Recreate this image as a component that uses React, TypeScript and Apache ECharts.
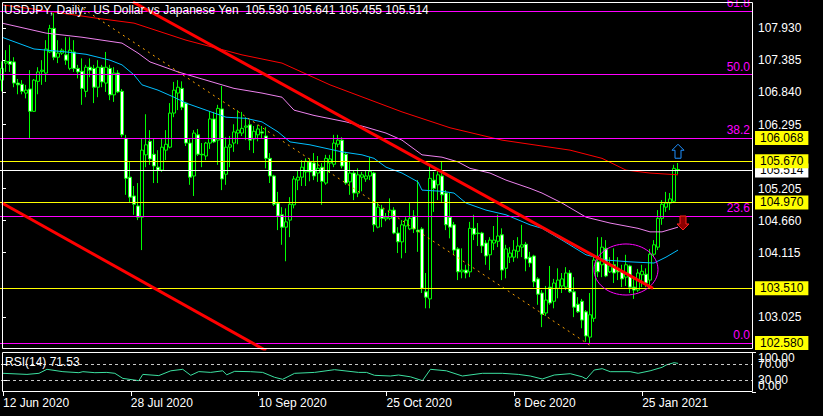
import React, { useEffect, useRef } from "react";
import * as echarts from "echarts";

const TITLE = "USDJPY, Daily:  US Dollar vs Japanese Yen  105.530 105.641 105.455 105.514";
const RSI_TITLE = "RSI(14) 71.53";
const FONT = "Liberation Sans, Arial, sans-serif";

const dateTickIdx = [0, 32, 64, 96, 128, 160];
const dateTickLabels = ["12 Jun 2020", "28 Jul 2020", "10 Sep 2020", "25 Oct 2020", "8 Dec 2020", "25 Jan 2021"];
const priceTicks = [103.025, 104.115, 104.66, 105.205, 106.295, 106.84, 107.385, 107.93];
const rsiMidTicks = [30, 70];
const rsiTopTick = [100];
const rsiBottomTick = [0];

// [open, close, low, high]
const ohlc = [
  [107.05,107.25,106.86,107.37],[107.34,107.37,107.19,107.56],[107.37,107.32,107.19,107.65],[107.36,107.00,106.93,107.44],[107.00,106.97,106.81,107.07],
  [106.98,106.86,106.81,107.05],[106.83,106.88,106.74,106.97],[106.90,106.52,106.06,107.22],[106.52,107.05,106.51,107.07],[107.03,107.19,106.81,107.27],
  [107.20,107.22,106.97,107.39],[107.17,107.58,107.02,107.73],[107.53,107.93,107.51,107.99],[107.93,107.44,107.39,108.19],[107.44,107.51,107.34,107.73],
  [107.51,107.56,107.48,107.59],[107.48,107.39,107.31,107.78],[107.25,107.56,107.22,107.78],[107.53,107.25,107.19,107.73],[107.25,107.19,107.08,107.31],
  [107.20,106.91,106.63,107.42],[106.86,107.27,106.76,107.31],[107.27,107.22,107.10,107.42],[107.25,106.93,106.66,107.31],[106.93,107.27,106.76,107.39],
  [107.27,107.02,106.93,107.31],[107.00,107.27,106.85,107.53],[107.25,106.80,106.71,107.31],[106.80,107.17,106.68,107.27],[107.17,106.85,106.83,107.22],
  [106.86,106.12,106.08,106.90],[106.06,105.38,105.10,106.12],[105.40,105.06,104.96,105.66],[105.08,104.94,104.76,105.25],[104.91,104.72,104.67,105.30],
  [104.72,105.86,104.16,106.06],[105.78,105.95,105.57,106.47],[106.01,105.71,105.61,106.20],[105.79,105.59,105.30,106.06],[105.57,105.52,105.30,105.86],
  [105.52,105.91,105.49,106.06],[105.86,105.96,105.69,106.20],[105.91,106.49,105.89,106.66],[106.49,106.88,106.42,107.02],[106.83,106.93,106.54,107.05],
  [106.91,106.59,106.54,107.03],[106.66,105.98,105.93,106.68],[105.98,105.40,105.27,106.06],[105.42,106.15,105.08,106.20],[106.12,105.79,105.76,106.22],
  [105.79,105.78,105.57,105.98],[105.76,105.98,105.69,106.00],[105.98,106.39,105.88,106.52],[106.39,106.00,105.98,106.51],[106.03,106.57,105.61,106.63],
  [106.56,105.37,105.18,106.95],[105.45,105.91,105.27,106.08],[105.91,105.95,105.57,106.10],[105.98,106.17,105.83,106.30],[106.15,106.20,105.96,106.54],
  [106.15,106.23,106.10,106.51],[106.25,106.27,106.03,106.42],[106.29,106.03,105.86,106.37],[106.05,106.18,105.81,106.27],[106.12,106.22,106.01,106.29],
  [106.17,106.15,106.05,106.27],[106.10,105.72,105.55,106.25],[105.72,105.42,105.30,105.81],[105.42,104.94,104.91,105.44],[104.96,104.74,104.50,105.15],
  [104.76,104.55,104.25,104.89],[104.55,104.64,103.97,104.87],[104.67,104.94,104.38,105.06],[104.93,105.37,104.87,105.42],[105.35,105.40,105.18,105.52],
  [105.40,105.57,105.25,105.69],[105.49,105.67,105.25,105.72],[105.66,105.49,105.33,105.72],[105.64,105.42,105.35,105.81],[105.47,105.55,105.32,105.76],
  [105.57,105.33,104.93,105.64],[105.30,105.72,105.27,105.78],[105.64,105.71,105.47,105.78],[105.62,105.98,105.57,106.12],[105.96,106.03,105.91,106.12],
  [106.03,105.59,105.55,106.08],[105.79,105.30,105.27,105.83],[105.32,105.47,105.10,105.66],[105.47,105.13,105.01,105.52],[105.13,105.44,105.06,105.55],
  [105.40,105.44,105.16,105.49],[105.37,105.42,105.32,105.52],[105.42,105.50,105.35,105.74],[105.47,104.59,104.47,105.49],[104.55,104.89,104.53,104.96],
  [104.86,104.70,104.55,104.93],[104.69,104.72,104.65,104.79],[104.70,104.84,104.67,105.04],[104.84,104.45,104.43,104.89],[104.45,104.30,104.11,104.55],
  [104.30,104.59,104.02,104.67],[104.57,104.67,104.11,104.72],[104.52,104.70,104.50,104.96],[104.74,104.52,104.45,104.84],[104.50,104.47,104.13,105.35],
  [104.52,103.51,103.43,104.55],[103.45,103.36,103.17,103.77],[103.33,105.38,103.17,105.61],[105.35,105.21,104.81,105.49],[105.27,105.44,105.01,105.54],
  [105.42,105.10,104.98,105.66],[105.13,104.59,104.50,105.18],[104.72,104.55,104.36,105.13],[104.59,104.16,104.08,104.64],[104.18,103.79,103.65,104.21],
  [103.79,103.82,103.68,104.19],[103.82,103.77,103.68,103.91],[103.79,104.53,103.70,104.64],[104.53,104.43,104.33,104.76],[104.45,104.44,104.23,104.62],
  [104.45,104.23,104.11,104.47],[104.28,104.06,103.91,104.33],[104.08,104.33,103.82,104.38],[104.28,104.33,104.16,104.57],[104.31,104.40,104.21,104.76],
  [104.42,103.82,103.65,104.53],[103.85,104.18,103.68,104.25],[104.04,104.11,103.94,104.21],[104.04,104.16,103.96,104.33],[104.14,104.23,104.02,104.38],
  [104.21,104.25,104.04,104.59],[104.26,104.01,103.80,104.30],[104.04,103.94,103.87,104.13],[104.06,103.62,103.53,104.08],[103.67,103.41,103.23,103.70],
  [103.43,103.07,102.85,103.48],[103.09,103.31,103.04,103.55],[103.53,103.26,103.23,103.89],[103.29,103.60,103.17,103.67],[103.51,103.65,103.34,103.85],
  [103.55,103.67,103.43,103.77],[103.53,103.77,103.48,103.87],[103.77,103.45,103.43,103.82],[103.45,103.19,103.02,103.70],[103.24,103.11,103.09,103.36],
  [103.29,102.97,102.83,103.33],[103.11,102.70,102.60,103.14],[102.68,103.06,102.58,103.43],[103.00,103.99,102.94,104.06],[103.96,103.79,103.70,104.38],
  [103.91,104.21,103.70,104.38],[104.19,103.72,103.70,104.33],[103.79,103.89,103.77,104.04],[103.91,103.77,103.60,104.19],[103.85,103.79,103.65,104.04],
  [103.80,103.67,103.53,103.91],[103.70,103.91,103.55,104.08],[103.89,103.53,103.43,103.91],[103.53,103.48,103.33,103.70],[103.48,103.77,103.45,103.84],
  [103.74,103.80,103.53,103.91],[103.75,103.60,103.53,103.85],[103.65,104.09,103.53,104.18],[104.09,104.25,104.04,104.33],[104.21,104.70,104.16,104.84],
  [104.70,104.94,104.59,105.01],[104.89,104.96,104.81,105.15],[104.96,105.03,104.84,105.13],[104.99,105.55,104.96,105.61],[105.530,105.514,105.455,105.641],
];

const redMaIdx = [0, 10, 24, 33, 46, 60, 70, 82, 100, 112, 125, 142, 150, 156, 162, 169];
const redMaVal = [108.33, 108.24, 108.10, 108.02, 107.73, 107.48, 107.34, 106.97, 106.51, 106.24, 106.03, 105.86, 105.72, 105.52, 105.47, 105.44];

const pinkMaIdx = [0, 11, 20, 25, 30, 34, 37, 44, 51, 58, 65, 70, 73, 78, 86, 91, 96, 100, 105, 110, 114, 117, 122, 126, 132, 135, 140, 146, 152, 159, 162, 165, 169];
const pinkMaVal = [108.02, 107.85, 107.78, 107.73, 107.68, 107.51, 107.36, 107.19, 107.05, 106.91, 106.83, 106.76, 106.54, 106.45, 106.34, 106.25, 106.15, 106.03, 105.78, 105.74, 105.66, 105.55, 105.47, 105.35, 105.21, 105.13, 104.96, 104.72, 104.62, 104.53, 104.47, 104.47, 104.55];

const blueMaIdx = [0, 8, 16, 21, 27, 30, 33, 35, 39, 43, 46, 51, 56, 61, 65, 69, 72, 77, 85, 90, 93, 96, 100, 104, 105, 110, 113, 116, 121, 126, 132, 135, 140, 146, 151, 157, 163, 166, 169];
const blueMaVal = [107.78, 107.58, 107.53, 107.49, 107.39, 107.31, 107.14, 106.97, 106.88, 106.76, 106.66, 106.54, 106.42, 106.40, 106.34, 106.17, 106.00, 105.95, 105.83, 105.78, 105.72, 105.57, 105.47, 105.32, 105.18, 105.16, 105.13, 104.96, 104.84, 104.76, 104.59, 104.53, 104.33, 104.08, 103.99, 103.96, 103.94, 104.04, 104.16];

const rsiIdx = [0, 6, 9, 11, 15, 19, 20, 23, 26, 28, 30, 34, 35, 39, 42, 45, 47, 49, 52, 55, 56, 58, 62, 65, 68, 70, 73, 78, 83, 89, 91, 93, 97, 99, 102, 105, 107, 111, 115, 120, 125, 129, 132, 135, 138, 142, 145, 146, 148, 150, 152, 157, 159, 162, 165, 166, 168, 169];
const rsiVal = [46.7, 44, 46.7, 56.7, 50.8, 48.3, 50.8, 48.3, 49, 46.7, 34, 28.3, 44, 41, 53, 56.7, 41.7, 51, 49, 53, 43, 51.7, 50.8, 49, 36.7, 31.7, 46.7, 49, 55.8, 49, 49, 41.7, 40, 42.5, 38, 28.3, 56.7, 53, 40, 46.7, 46.7, 44, 40, 32.5, 42.5, 45.8, 38, 32.5, 55, 58.3, 50.8, 50.8, 46.7, 53, 61.7, 67.5, 73.3, 71.53];
const rsiLevels = [70, 30];

// trend objects, in [bar index, price]
const trendMain = [[32.75, 108.38], [162.75, 103.51]];
const trendLower = [[0, 104.96], [66, 102.45]];
const trendDotted = [[17.75, 108.38], [147, 102.54]];
const ellipseObj = [[156, 103.83, 8, 0.434]];
const arrowObjs = [[169, 105.96, 1], [170.25, 104.74, -1]];

const fibPrices = [108.223, 107.146, 106.068, 104.735, 102.58];
const fibLabels = ["61.8", "50.0", "38.2", "23.6", "0.0"];
const yellowLinePrices = [105.67, 104.97, 103.51];
const yellowBoxPrices = [106.068, 105.67, 104.97, 103.51, 102.58];
const bidPrice = 105.514;

const N_SLOTS = 188;
const Y_MIN = 102.478;
const Y_MAX = 108.379;

function pairs(idx: number[], val: number[]) {
  return idx.map((v, i) => [v, val[i]]);
}

const boxLabel = (bg: string, value: number) => ({
  show: true,
  position: "end",
  distance: 3,
  backgroundColor: bg,
  color: "#000",
  fontSize: 12,
  fontFamily: FONT,
  lineHeight: 13,
  padding: [1, 5, 0, 5],
  formatter: value.toFixed(3),
});

const rsiAxis = (values: number[], vAlign: string) => ({
  type: "value", gridIndex: 1, position: "right", min: 0, max: 100,
  axisLine: { show: false }, splitLine: { show: false },
  axisTick: { show: true, customValues: values, length: 4, lineStyle: { color: "#fff" } },
  axisLabel: {
    show: true, customValues: values, showMinLabel: true, showMaxLabel: true,
    color: "#fff", fontSize: 12, fontFamily: FONT, margin: 6, verticalAlign: vAlign,
    formatter: (v: number) => v.toFixed(2),
  },
});

export default function App() {
  const ref = useRef<HTMLDivElement>(null);
  useEffect(() => {
    document.body.style.margin = "0";
    document.body.style.background = "#000";
    const chart = echarts.init(ref.current!, null, { renderer: "svg" });

    const markData: any[] = [];
    markData.push({ yAxis: bidPrice, lineStyle: { color: "#ffffff", width: 1, type: "solid" }, label: boxLabel("#ffffff", bidPrice) });
    fibPrices.forEach((p, i) => {
      markData.push({
        yAxis: p,
        lineStyle: { color: "#ff00ff", width: 1, type: "solid" },
        label: {
          show: true, position: "insideEndTop", distance: 2, color: "#ff00ff",
          fontSize: 12, fontFamily: FONT, formatter: fibLabels[i],
        },
      });
    });
    yellowLinePrices.forEach((p) => {
      markData.push({ yAxis: p, lineStyle: { color: "#ffff00", width: 1, type: "solid" }, label: { show: false } });
    });
    yellowBoxPrices.forEach((p) => {
      markData.push({ yAxis: p, lineStyle: { color: "rgba(0,0,0,0)", width: 0 }, label: boxLabel("#ffff00", p) });
    });

    const option: any = {
      animation: false,
      backgroundColor: "#000",
      textStyle: { fontFamily: FONT },
      grid: [
        { left: 0, top: 2, width: 752, height: 347 },
        { left: 0, top: 352, width: 752, height: 40 },
      ],
      xAxis: [
        {
          type: "category", gridIndex: 0, data: Array.from({ length: N_SLOTS }, (_, i) => String(i)),
          show: false, boundaryGap: true,
        },
        { type: "value", gridIndex: 0, min: -0.5, max: N_SLOTS - 0.5, show: false },
        {
          type: "value", gridIndex: 1, min: -0.5, max: N_SLOTS - 0.5,
          axisLine: { show: false },
          splitLine: { show: false },
          axisTick: { show: true, customValues: dateTickIdx, length: 4, lineStyle: { color: "#fff" } },
          axisLabel: {
            show: true, customValues: dateTickIdx, color: "#fff", fontSize: 12, fontFamily: FONT,
            align: "left", margin: 5,
            formatter: (v: number) => dateTickLabels[dateTickIdx.indexOf(Math.round(v))] ?? "",
          },
        },
      ],
      yAxis: [
        {
          type: "value", gridIndex: 0, position: "right", min: Y_MIN, max: Y_MAX, scale: true,
          axisLine: { show: false }, splitLine: { show: false },
          axisTick: { show: true, customValues: priceTicks, length: 4, lineStyle: { color: "#fff" } },
          axisLabel: {
            show: true, customValues: priceTicks, color: "#fff", fontSize: 12, fontFamily: FONT, margin: 6,
            formatter: (v: number) => v.toFixed(3),
          },
        },
        rsiAxis(rsiMidTicks, "middle"),
        rsiAxis(rsiTopTick, "top"),
        rsiAxis(rsiBottomTick, "bottom"),
      ],
      series: [
        {
          type: "candlestick", xAxisIndex: 0, yAxisIndex: 0, data: ohlc, barWidth: 3, z: 1,
          itemStyle: { color: "#000000", color0: "#ffffff", borderColor: "#00ff00", borderColor0: "#00ff00", borderWidth: 1 },
        },
        {
          type: "line", xAxisIndex: 1, yAxisIndex: 0, data: pairs(redMaIdx, redMaVal), symbol: "none", z: 3,
          lineStyle: { color: "#ff0000", width: 1 },
        },
        {
          type: "line", xAxisIndex: 1, yAxisIndex: 0, data: pairs(pinkMaIdx, pinkMaVal), symbol: "none", z: 3,
          lineStyle: { color: "#ee82ee", width: 1 },
        },
        {
          type: "line", xAxisIndex: 1, yAxisIndex: 0, data: pairs(blueMaIdx, blueMaVal), symbol: "none", z: 3,
          lineStyle: { color: "#00bfff", width: 1 },
        },
        {
          type: "line", xAxisIndex: 1, yAxisIndex: 0, data: trendDotted, symbol: "none", z: 3, clip: true,
          lineStyle: { color: "#ffa500", width: 1, type: [2, 4] },
        },
        {
          type: "line", xAxisIndex: 1, yAxisIndex: 0, data: [], symbol: "none", z: 4, clip: false,
          markLine: { silent: true, symbol: ["none", "none"], precision: 3, animation: false, data: markData },
        },
        {
          type: "line", xAxisIndex: 1, yAxisIndex: 0, data: trendMain, symbol: "none", z: 5, clip: true,
          lineStyle: { color: "#ff0000", width: 3 },
        },
        {
          type: "line", xAxisIndex: 1, yAxisIndex: 0, data: trendLower, symbol: "none", z: 5, clip: true,
          lineStyle: { color: "#ff0000", width: 3 },
        },
        {
          type: "custom", xAxisIndex: 1, yAxisIndex: 0, data: ellipseObj, z: 5, clip: false,
          renderItem: (_p: any, api: any) => {
            const c = api.coord([api.value(0), api.value(1)]);
            const s = api.size([api.value(2), api.value(3)]);
            return {
              type: "ellipse",
              shape: { cx: c[0], cy: c[1], rx: s[0], ry: s[1] },
              style: { fill: "none", stroke: "#ff00ff", lineWidth: 1 },
            };
          },
        },
        {
          type: "custom", xAxisIndex: 1, yAxisIndex: 0, data: arrowObjs, z: 6, clip: false,
          renderItem: (_p: any, api: any) => {
            const c = api.coord([api.value(0), api.value(1)]);
            const x = c[0], y = c[1];
            const up = api.value(2) > 0;
            const pts = up
              ? [[x, y], [x + 6, y + 6], [x + 3, y + 6], [x + 3, y + 14], [x - 3, y + 14], [x - 3, y + 6], [x - 6, y + 6]]
              : [[x - 3, y], [x + 3, y], [x + 3, y + 8], [x + 6, y + 8], [x, y + 14], [x - 6, y + 8], [x - 3, y + 8]];
            return {
              type: "polygon",
              shape: { points: pts },
              style: { fill: up ? "#000" : "#8b0000", stroke: up ? "#1e90ff" : "#ff2020", lineWidth: 1 },
            };
          },
        },
        {
          type: "line", xAxisIndex: 2, yAxisIndex: 1, data: pairs(rsiIdx, rsiVal), symbol: "none", z: 3,
          lineStyle: { color: "#3ce0a0", width: 1 },
          markLine: {
            silent: true, symbol: ["none", "none"], animation: false,
            lineStyle: { color: "#c8c8c8", width: 1, type: [3, 3] },
            label: { show: false },
            data: rsiLevels.map((v) => ({ yAxis: v })),
          },
        },
      ],
      graphic: [
        { type: "rect", z: 10, silent: true, shape: { x: 2.5, y: 2.5, width: 750, height: 346 }, style: { fill: "none", stroke: "#fff", lineWidth: 1 } },
        { type: "rect", z: 10, silent: true, shape: { x: 2.5, y: 352.5, width: 750, height: 39 }, style: { fill: "none", stroke: "#fff", lineWidth: 1 } },
        { type: "text", z: 11, left: 4, top: 4, style: { text: TITLE, fill: "#fff", fontSize: 12, fontFamily: FONT } },
        { type: "text", z: 11, left: 5, top: 356, style: { text: RSI_TITLE, fill: "#fff", fontSize: 12, fontFamily: FONT } },
      ],
    };
    chart.setOption(option);
    return () => chart.dispose();
  }, []);
  return <div ref={ref} style={{ width: 823, height: 416, background: "#000" }} />;
}
